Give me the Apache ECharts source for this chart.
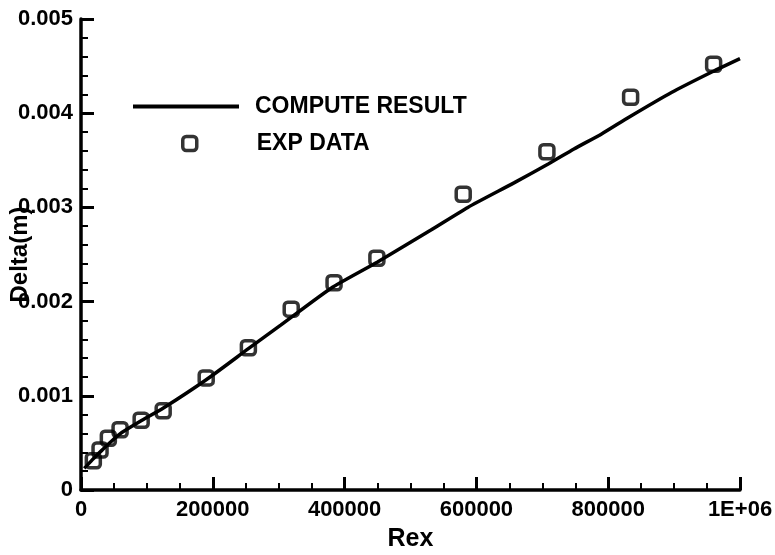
<!DOCTYPE html>
<html>
<head>
<meta charset="utf-8">
<script src="https://cdn.jsdelivr.net/npm/echarts@6/dist/echarts.min.js"></script>
<style>
  html, body { margin: 0; padding: 0; background: #fff; }
  #chart { width: 775px; height: 555px; }
</style>
</head>
<body>
<div id="chart"></div>
<script>
// Delta(m) vs Rex: computed curve and experimental points
const seriesNames = ['COMPUTE RESULT', 'EXP DATA'];

const computeRex = [5000, 17000, 30000, 45000, 62000, 90000, 125000, 190000, 254000, 303000,
  379000, 450000, 531000, 587000, 657000, 709000, 748000, 790000, 832000, 896000, 958000, 1000000];
const computeDelta = [0.00023, 0.00032, 0.00041, 0.00051, 0.00061, 0.00073, 0.00087, 0.00117, 0.00150, 0.00175,
  0.00214, 0.00242, 0.00276, 0.00300, 0.00326, 0.00346, 0.00362, 0.00378, 0.00396, 0.00422, 0.00444, 0.00458];

const expRex = [18700, 28900, 41500, 59300, 91300, 124700, 190000, 254000, 319000, 384000,
  449000, 580000, 707000, 834000, 960000];
const expDelta = [0.00031, 0.000425, 0.00055, 0.00064, 0.00074, 0.00084, 0.00119, 0.00151, 0.00192, 0.00220,
  0.00246, 0.00314, 0.00359, 0.00417, 0.00452];

const FONT = 'Liberation Sans, Arial, sans-serif';
const zip = (xs, ys) => xs.map((x, i) => [x, ys[i]]);
const legendText = pad => ({
  color: '#000', fontFamily: FONT, fontWeight: 'bold', fontSize: 23, padding: [0, 0, 0, pad],
});

const chart = echarts.init(document.getElementById('chart'), null, { renderer: 'canvas' });
chart.setOption({
  backgroundColor: '#fff',
  animation: false,
  grid: { left: 81, right: 35, top: 19, bottom: 65, outerBoundsMode: 'none' },
  legend: [
    {
      left: 128, top: 90, itemWidth: 106, itemHeight: 4, padding: 5,
      data: [{ name: seriesNames[0], icon: 'rect' }],
      textStyle: legendText(11),
    },
    {
      left: 176, top: 127, itemWidth: 14, itemHeight: 14, padding: 5,
      data: [{ name: seriesNames[1], icon: 'roundRect' }],
      itemStyle: { color: 'rgba(255,255,255,0)', borderColor: '#000', borderWidth: 3.5 },
      textStyle: legendText(55),
    },
  ],
  xAxis: {
    type: 'value', min: 0, max: 1000000, interval: 200000,
    name: 'Rex', nameLocation: 'middle', nameGap: 37, nameMoveOverlap: false,
    nameTextStyle: { color: '#000', fontFamily: FONT, fontWeight: 'bold', fontSize: 25 },
    axisLine: { lineStyle: { color: '#000', width: 3.5 } },
    axisTick: { inside: true, length: 13, lineStyle: { color: '#000', width: 3 } },
    minorTick: { show: true, splitNumber: 4, length: 7, lineStyle: { color: '#000', width: 2 } },
    axisLabel: {
      color: '#000', fontFamily: FONT, fontWeight: 'bold', fontSize: 22, margin: 9, showMaxLabel: true,
      formatter: v => (v === 1000000 ? '1E+06' : String(v)),
    },
    splitLine: { show: false },
  },
  yAxis: {
    type: 'value', min: 0, max: 0.005, interval: 0.001,
    name: 'Delta(m)', nameLocation: 'middle', nameGap: 49, nameMoveOverlap: false,
    nameTextStyle: { color: '#000', fontFamily: FONT, fontWeight: 'bold', fontSize: 24 },
    axisLine: { lineStyle: { color: '#000', width: 3.5 } },
    axisTick: { inside: true, length: 13, lineStyle: { color: '#000', width: 3 } },
    minorTick: { show: true, splitNumber: 5, length: 7, lineStyle: { color: '#000', width: 2 } },
    axisLabel: {
      color: '#000', fontFamily: FONT, fontWeight: 'bold', fontSize: 22, margin: 8,
      formatter: v => (v === 0 ? '0' : v.toFixed(3)),
    },
    splitLine: { show: false },
  },
  series: [
    {
      name: seriesNames[0], type: 'line', data: zip(computeRex, computeDelta),
      showSymbol: false, symbol: 'none', smooth: 0.2,
      lineStyle: { color: '#000', width: 3.5 }, itemStyle: { color: '#000' }, z: 2,
    },
    {
      name: seriesNames[1], type: 'scatter', data: zip(expRex, expDelta),
      symbol: 'roundRect', symbolSize: 14,
      itemStyle: { color: 'rgba(255,255,255,0)', borderColor: '#000', borderWidth: 3.5 }, z: 3,
    },
  ],
});
</script>
</body>
</html>
